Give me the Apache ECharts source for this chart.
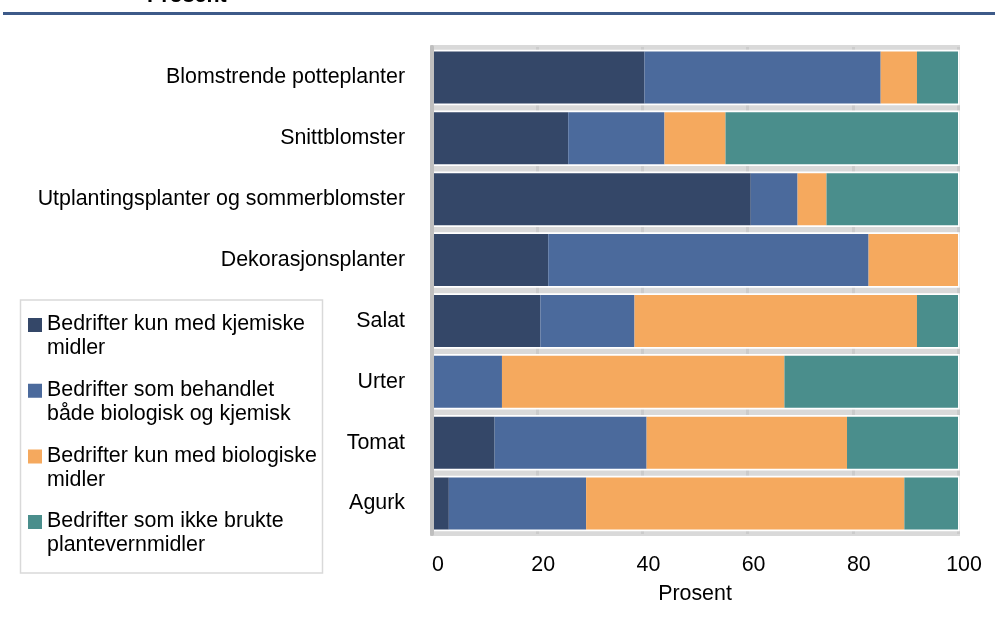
<!DOCTYPE html>
<html>
<head>
<meta charset="utf-8">
<script src="https://cdn.jsdelivr.net/npm/echarts@6/dist/echarts.min.js"></script>
<style>
  html, body { margin: 0; padding: 0; background: #fff; }
  #chart { width: 995px; height: 621px; }
</style>
</head>
<body>
<div id="chart"></div>
<script>
// Produksjonsgrupper (top to bottom)
const categories = [
  'Blomstrende potteplanter',
  'Snittblomster',
  'Utplantingsplanter og sommerblomster',
  'Dekorasjonsplanter',
  'Salat',
  'Urter',
  'Tomat',
  'Agurk'
];

// Andel bedrifter, prosent
const kunKjemiske   = [40.4, 25.9, 60.6, 22.1, 20.6, 0.0, 11.9, 3.2];
const begge         = [44.9, 18.3, 8.9, 60.9, 17.9, 13.3, 28.9, 26.1];
const kunBiologiske = [6.9, 11.6, 5.5, 17.0, 53.7, 53.7, 38.1, 60.5];
const ingenMidler   = [7.8, 44.2, 25.0, 0.0, 7.8, 33.0, 21.1, 10.2];

const seriesNames = [
  'Bedrifter kun med kjemiske\nmidler',
  'Bedrifter som behandlet\nbåde biologisk og kjemisk',
  'Bedrifter kun med biologiske\nmidler',
  'Bedrifter som ikke brukte\nplantevernmidler'
];

const xTicks = { min: 0, max: 100, interval: 20 };
const unitTitle = 'Prosent';
const xAxisName = 'Prosent';

const colors = ['#344768', '#4b6a9c', '#f5a95e', '#4a8e8c'];
const FONT = '"Liberation Sans", Arial, sans-serif';
const FS = 21.4;

// Legend swatch: a square sitting at the top of a two-line-tall icon box,
// so it lines up with the first line of each wrapped legend label.
const LEGEND_LINE = 24;
const legendIcon = 'path://M0,0L0.01,0M0,5.5L14,5.5L14,19.5L0,19.5ZM14,48L13.99,48';

const values = [kunKjemiske, begge, kunBiologiske, ingenMidler];

const series = values.map((data, i) => {
  const s = {
    name: seriesNames[i],
    type: 'bar',
    stack: 'total',
    data: data,
    barCategoryGap: '14.6%',
    itemStyle: { color: colors[i] },
    z: 2
  };
  if (i === 0) {
    s.showBackground = true;
    s.backgroundStyle = { color: '#ffffff', borderColor: '#ffffff', borderWidth: 3.4 };
  }
  return s;
});

const chart = echarts.init(document.getElementById('chart'), null, { renderer: 'canvas' });

chart.setOption({
  animation: false,
  textStyle: { fontFamily: FONT },
  graphic: [
    {
      // unit heading, mostly above the top edge of the page
      type: 'text',
      x: 147,
      y: -14,
      silent: true,
      style: {
        text: unitTitle,
        font: 'bold ' + FS + 'px ' + FONT,
        fill: '#000',
        verticalAlign: 'top'
      }
    },
    {
      type: 'line',
      shape: { x1: 3, y1: 13.5, x2: 995, y2: 13.5 },
      style: { stroke: '#3d5a89', lineWidth: 3 },
      silent: true
    },
    {
      type: 'rect',
      shape: { x: 20.5, y: 300, width: 302, height: 273 },
      style: { fill: 'none', stroke: '#d9d9d9', lineWidth: 1.5 },
      silent: true,
      z: -1
    }
  ],
  legend: {
    orient: 'vertical',
    left: 28,
    top: 312.5,
    padding: 0,
    itemWidth: 14,
    itemHeight: LEGEND_LINE * 2,
    itemGap: 17.7,
    icon: legendIcon,
    selectedMode: false,
    data: seriesNames,
    itemStyle: { borderWidth: 0 },
    textStyle: {
      fontFamily: FONT,
      fontSize: FS,
      lineHeight: LEGEND_LINE,
      color: '#000'
    }
  },
  grid: {
    left: 432,
    right: 37,
    top: 47,
    bottom: 87,
    show: true,
    backgroundColor: '#d9d9d9',
    borderColor: '#d9d9d9',
    borderWidth: 4
  },
  xAxis: {
    type: 'value',
    min: xTicks.min,
    max: xTicks.max,
    interval: xTicks.interval,
    name: xAxisName,
    nameLocation: 'middle',
    nameGap: 50,
    nameTextStyle: { fontFamily: FONT, fontSize: FS, color: '#000' },
    axisLine: { show: false },
    axisTick: { show: false },
    axisLabel: {
      fontFamily: FONT,
      fontSize: FS,
      color: '#000',
      margin: 21,
      padding: [0, 0, 0, 12]
    },
    splitLine: { show: true, lineStyle: { color: '#cbcbcb', width: 3 } }
  },
  yAxis: {
    type: 'category',
    data: categories,
    inverse: true,
    z: 3,
    axisLine: { show: true, lineStyle: { color: '#bfbfbf', width: 4 } },
    axisTick: { show: false },
    axisLabel: { fontFamily: FONT, fontSize: FS, color: '#000', margin: 27 },
    splitLine: { show: false }
  },
  series: series
});
</script>
</body>
</html>
